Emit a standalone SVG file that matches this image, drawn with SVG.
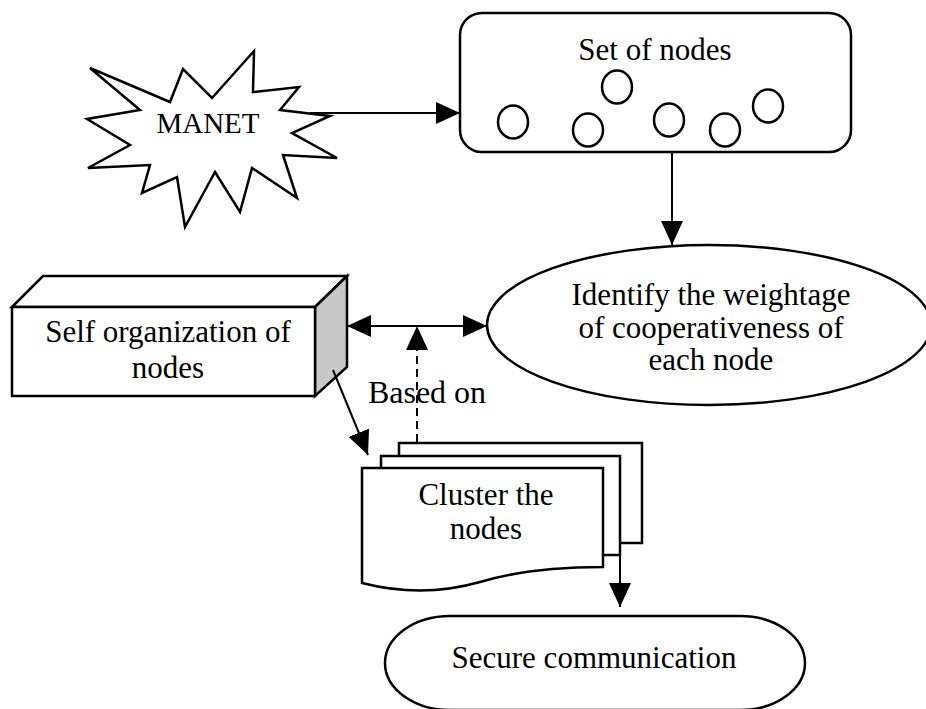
<svg xmlns="http://www.w3.org/2000/svg" width="926" height="709" viewBox="0 0 926 709">
<defs>
<style>
.shape{fill:#fff;stroke:#000;stroke-width:2.5;stroke-linejoin:miter}
.side{fill:#c8c8c8;stroke:#000;stroke-width:2.5}
.small{fill:#fff;stroke:#000;stroke-width:2.5}
.lbl{font-family:'Liberation Serif','Times New Roman',serif;font-size:31px;fill:#000;text-anchor:middle}
.conn{fill:none;stroke:#000;stroke-width:2}
.dash{stroke-dasharray:8,5}
</style>
<marker id="ah" markerUnits="userSpaceOnUse" markerWidth="24" markerHeight="22" refX="24" refY="11" orient="auto-start-reverse" viewBox="0 0 24 22">
<path d="M0,0 L24,11 L0,22 Z" fill="#000"/>
</marker>
</defs>
<rect width="926" height="709" fill="#fff"/>

<g id="manet">
<polygon class="shape" points="90,68 170,102 183,69 212,98 254,51 253,92 299,87 280,110 330,116 292,133 337,158 283,155 297,198 252,168 240,212 215,172 185,227 177,177 142,193 150,165 88,168 130,145 87,119 140,110"/>
<text class="lbl" x="208" y="133" style="font-size:29px">MANET</text>
</g>

<g id="set-of-nodes">
<rect class="shape" x="460" y="13" width="391" height="139" rx="22" ry="22"/>
<text class="lbl" x="655" y="60">Set of nodes</text>
<ellipse class="small" cx="513" cy="122" rx="15" ry="16.5"/>
<ellipse class="small" cx="588" cy="130" rx="15" ry="16.5"/>
<ellipse class="small" cx="617" cy="87" rx="15" ry="16.5"/>
<ellipse class="small" cx="669" cy="120" rx="15" ry="16.5"/>
<ellipse class="small" cx="725" cy="130" rx="15" ry="16.5"/>
<ellipse class="small" cx="768" cy="106" rx="15" ry="16.5"/>
</g>

<g id="identify">
<ellipse class="shape" cx="709" cy="325" rx="222" ry="80"/>
<text class="lbl" x="711" y="305">Identify the weightage</text>
<text class="lbl" x="711" y="338">of cooperativeness of</text>
<text class="lbl" x="711" y="370">each node</text>
</g>

<g id="self-organization">
<polygon class="shape" points="12,307 43,276 347,276 315,307"/>
<polygon class="side" points="315,307 347,276 347,367 315,396"/>
<rect class="shape" x="12" y="307" width="303" height="89"/>
<text class="lbl" x="168" y="342">Self organization of</text>
<text class="lbl" x="168" y="378">nodes</text>
</g>

<g id="cluster">
<rect class="shape" x="399" y="443" width="243" height="100"/>
<rect class="shape" x="381" y="456" width="239" height="99"/>
<path class="shape" d="M362,468 L603,468 L603,567 C560,567 520,570 480,582 C445,592 405,594 362,583 Z"/>
<text class="lbl" x="486" y="505">Cluster the</text>
<text class="lbl" x="486" y="539">nodes</text>
</g>

<g id="secure">
<rect class="shape" x="385" y="616" width="420" height="94" rx="65" ry="47"/>
<text class="lbl" x="594" y="668">Secure communication</text>
</g>

<g id="connectors">
<line class="conn" x1="310" y1="113" x2="460" y2="113" marker-end="url(#ah)"/>
<line class="conn" x1="672" y1="152" x2="672" y2="245" marker-end="url(#ah)"/>
<line class="conn" x1="347" y1="326" x2="487" y2="326" marker-start="url(#ah)" marker-end="url(#ah)"/>
<line class="conn dash" x1="417" y1="442" x2="417" y2="326" marker-end="url(#ah)"/>
<line class="conn" x1="333" y1="370" x2="368" y2="455" marker-end="url(#ah)"/>
<line class="conn" x1="620" y1="555" x2="620" y2="607" marker-end="url(#ah)"/>
</g>

<text class="lbl" x="427" y="403" style="font-size:32px">Based on</text>
</svg>
